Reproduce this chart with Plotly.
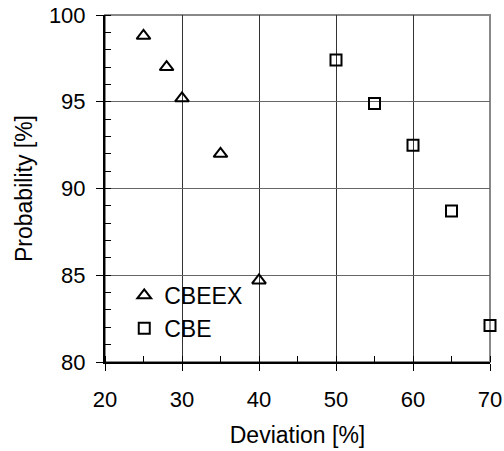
import plotly.graph_objects as go

# Data
cbeex_x = [25, 28, 30, 35, 40]
cbeex_y = [98.8, 97.0, 95.2, 92.0, 84.7]
cbe_x = [50, 55, 60, 65, 70]
cbe_y = [97.4, 94.9, 92.5, 88.7, 82.1]

FONT = "Liberation Sans, Arial, sans-serif"

fig = go.Figure()
fig.add_trace(go.Scatter(
    x=cbeex_x, y=cbeex_y, mode="markers", name="CBEEX",
    marker=dict(symbol="triangle-up-open", size=12, color="black",
                line=dict(width=2, color="black")),
    cliponaxis=False,
))
fig.add_trace(go.Scatter(
    x=cbe_x, y=cbe_y, mode="markers", name="CBE",
    marker=dict(symbol="square-open", size=11, color="black",
                line=dict(width=2, color="black")),
    cliponaxis=False,
))

fig.add_shape(type="rect", xref="paper", yref="paper", x0=0, x1=1, y0=0, y1=1,
              line=dict(color="#888888", width=2), layer="between")

fig.update_layout(
    width=504, height=451,
    margin=dict(l=105, r=14, t=15, b=89, autoexpand=False),
    paper_bgcolor="white", plot_bgcolor="white",
    font=dict(family=FONT, size=22, color="black"),
    showlegend=True,
    legend=dict(x=0.05, y=0.035, xanchor="left", yanchor="bottom",
                bgcolor="rgba(0,0,0,0)", font=dict(size=23),
                itemwidth=30, tracegroupgap=0),
    xaxis=dict(
        range=[20, 70], dtick=10, tick0=20, automargin=False,
        showgrid=True, gridcolor="#333333", gridwidth=1,
        showline=True, linecolor="black", linewidth=2,
        ticks="outside", ticklen=7, tickwidth=1, tickcolor="black",
        ticklabelstandoff=10,
        minor=dict(ticks="inside", dtick=5, ticklen=6, tickcolor="black", showgrid=False),
        zeroline=False,
        title=dict(text="Deviation [%]", font=dict(size=23), standoff=15),
    ),
    yaxis=dict(
        range=[80, 100], dtick=5, tick0=80, automargin=False,
        showgrid=True, gridcolor="#666666", gridwidth=1,
        showline=True, linecolor="black", linewidth=2,
        ticks="outside", ticklen=7, tickwidth=1, tickcolor="black",
        ticklabelstandoff=6,
        minor=dict(ticks="inside", dtick=1, ticklen=6, tickcolor="black", showgrid=False),
        zeroline=False,
        title=dict(text="Probability [%]", font=dict(size=23), standoff=10),
    ),
)

fig.write_html("out.html")
